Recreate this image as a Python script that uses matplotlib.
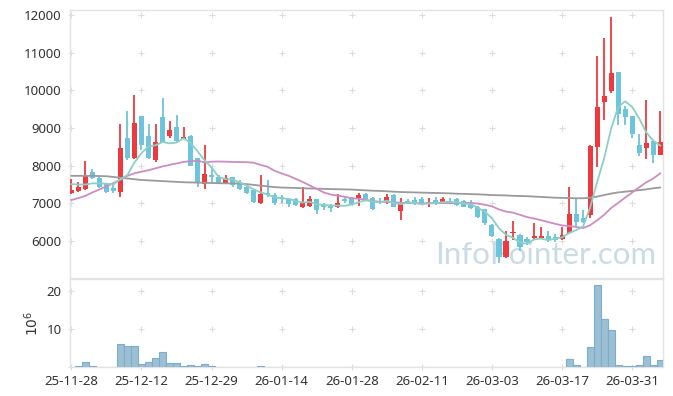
import numpy as np
import pandas as pd
import matplotlib
matplotlib.use("Agg")
import matplotlib.pyplot as plt

# ---- data -------------------------------------------------------------
holidays = ["2025-12-25", "2025-12-31", "2026-01-01", "2026-02-16",
            "2026-02-17", "2026-02-18", "2026-03-02"]
dates = pd.bdate_range("2025-11-28", "2026-04-06", freq="C", holidays=holidays)

opens = [7280, 7330, 7380, 7820, 7660, 7510, 7410, 7290, 8730, 8210,
         9320, 8800, 8160, 9280, 8800, 9020, 8710, 8790, 8200, 7510,
         7750, 7710, 7530, 7690, 7570, 7440, 7350, 7000, 7280, 7220,
         7180, 7110, 7110, 6910, 6930, 7110, 6960, 6930, 6890, 7110,
         7130, 7130, 7250, 7130, 7070, 7040, 7220, 6800, 7070, 7090,
         7120, 7000, 7090, 7030, 7070, 7120, 7070, 7000, 6910, 6840,
         6420, 6050, 5570, 6200, 6150, 6050, 6080, 6090, 6130, 6100,
         6060, 6200, 6720, 6620, 6690, 8500, 9700, 9990, 10490, 9510,
         9320, 8550, 8460, 8650, 8280]
highs = [7650, 7570, 8120, 7910, 7710, 7550, 7530, 9100, 9450, 9880,
         9320, 9110, 9100, 9790, 9190, 9350, 9030, 8810, 8200, 8550,
         7970, 7750, 7750, 7710, 7620, 7490, 7353, 7750, 7620, 7270,
         7220, 7130, 7130, 7430, 7190, 7115, 7010, 6980, 7250, 7180,
         7180, 7270, 7270, 7180, 7130, 7250, 7250, 7130, 7110, 7160,
         7160, 7130, 7160, 7180, 7130, 7130, 7090, 7090, 6930, 6850,
         6450, 6080, 6270, 6540, 6190, 6100, 6470, 6360, 6270, 6190,
         6380, 7430, 7130, 6820, 8540, 10920, 11380, 11950, 10490, 9580,
         9320, 8840, 9740, 8660, 9460]
lows = [7260, 7290, 7345, 7640, 7400, 7280, 7280, 7160, 8150, 8180,
        8420, 8180, 8110, 8620, 8730, 8640, 8700, 7980, 7440, 7380,
        7530, 7510, 7510, 7440, 7350, 7250, 7000, 6990, 7180, 6960,
        7000, 6910, 6930, 6870, 6915, 6720, 6820, 6780, 6880, 7020,
        6960, 6930, 7090, 6820, 6990, 6980, 6900, 6560, 6980, 6960,
        6960, 6910, 6960, 7010, 7000, 6930, 6890, 6850, 6600, 6420,
        6110, 5410, 5550, 6030, 5740, 5890, 6050, 6070, 5980, 5980,
        6030, 6190, 6400, 6480, 6610, 7970, 9210, 9940, 9080, 9080,
        8730, 8260, 8170, 8080, 8280]
closes = [7350, 7430, 7750, 7680, 7440, 7310, 7330, 8460, 8210, 9130,
          8550, 8200, 8620, 8640, 8950, 8660, 8770, 7990, 7530, 7780,
          7690, 7530, 7670, 7500, 7380, 7280, 7040, 7250, 7220, 7020,
          7130, 6980, 6960, 7020, 7110, 6820, 6890, 6870, 7020, 7070,
          6980, 7220, 7110, 6840, 7000, 7180, 6910, 6980, 7000, 7000,
          7000, 7040, 7000, 7120, 7020, 6960, 6910, 6870, 6650, 6470,
          6130, 5570, 6000, 6250, 5850, 5970, 6130, 6130, 6030, 6030,
          6160, 6720, 6510, 6510, 8520, 9570, 9850, 10470, 9370, 9280,
          8830, 8330, 8610, 8280, 8630]
volumes_m = [0.1, 0.3, 1.3, 0.3, 0.05, 0.05, 0.05, 6.1, 5.6, 5.6,
             0.8, 1.3, 2.4, 4.0, 1.1, 1.1, 0.3, 0.5, 0.3, 0.8,
             0.3, 0.05, 0.05, 0.05, 0.05, 0.05, 0.05, 0.2, 0.05, 0.05,
             0.05, 0.05, 0.05, 0.05, 0.05, 0.05, 0.05, 0.05, 0.05, 0.05,
             0.05, 0.05, 0.05, 0.05, 0.05, 0.05, 0.05, 0.05, 0.05, 0.05,
             0.05, 0.05, 0.05, 0.05, 0.05, 0.05, 0.05, 0.05, 0.05, 0.05,
             0.05, 0.05, 0.05, 0.05, 0.05, 0.05, 0.05, 0.05, 0.05, 0.05,
             0.05, 2.1, 0.5, 0.1, 5.3, 21.5, 12.7, 9.8, 0.5, 0.2,
             0.2, 0.4, 2.9, 0.5, 1.8]
# moving-average values before enough closes exist in the window
ma5_head = [7510, 7500, 7500, 7530]
ma20_head = [7090, 7140, 7200, 7290, 7370, 7450, 7540, 7630, 7730, 7800,
             7840, 7880, 7930, 7980, 8020, 8060, 8100, 8120, 8130]
ma60 = [7730, 7730, 7730, 7730, 7725, 7720, 7700, 7680, 7660, 7640,
        7620, 7610, 7600, 7590, 7580, 7570, 7560, 7555, 7550, 7545,
        7540, 7535, 7530, 7530, 7525, 7510, 7490, 7470, 7450, 7430,
        7420, 7415, 7410, 7400, 7395, 7390, 7385, 7380, 7375, 7370,
        7365, 7355, 7345, 7335, 7330, 7320, 7310, 7300, 7295, 7290,
        7285, 7280, 7275, 7270, 7265, 7255, 7250, 7245, 7240, 7230,
        7220, 7215, 7210, 7200, 7195, 7190, 7180, 7170, 7160, 7150,
        7145, 7140, 7135, 7135, 7150, 7180, 7220, 7260, 7290, 7310,
        7330, 7350, 7370, 7400, 7420]

# ---- derived --------------------------------------------------------------
n = len(closes)
dates = dates[:n]
x = np.arange(n)
o = np.array(opens, float); h = np.array(highs, float)
l = np.array(lows, float); c = np.array(closes, float)
cs = pd.Series(c)
ma5 = cs.rolling(5).mean().to_numpy()
ma5[:4] = ma5_head
ma20 = cs.rolling(20).mean().to_numpy()
ma20[:19] = ma20_head

RED = "#ee3a3f"
BLUE = "#6dc4dd"
up = c >= o
cols = np.where(up, RED, BLUE)

plt.rcParams["font.family"] = ["Noto Sans", "DejaVu Sans"]
fig = plt.figure(figsize=(6.73, 3.96), dpi=100)
W, H = 673, 396
ax = fig.add_axes([70 / W, 1 - 278 / H, 593 / W, 268 / H])
axv = fig.add_axes([70 / W, 1 - 367 / H, 593 / W, 88 / H], sharex=ax)

# candles
ax.vlines(x, l, h, colors=cols, linewidth=1.3, zorder=3)
ax.bar(x, np.abs(c - o), bottom=np.minimum(o, c), width=0.72,
       color=cols, linewidth=0, zorder=3)
ax.plot(x, ma60, color="#9a9a9a", lw=1.3, zorder=4)
ax.plot(x, ma20, color="#cc8cc4", lw=1.3, zorder=4)
ax.plot(x, ma5, color="#8ccfc4", lw=1.3, zorder=4)

ax.text(0.803, 0.085, "InfoPointer.com", transform=ax.transAxes,
        ha="center", va="center", fontsize=22.5, family=["Lato", "DejaVu Sans"],
        color="#cadbe6", zorder=1)

# volume
axv.bar(x, volumes_m, width=1.0, color="#9bbfd3", edgecolor="#7eaccb",
        linewidth=0.8, zorder=3)

ax.set_xlim(-0.2, n - 0.6)
ax.set_ylim(5018, 12133)
axv.set_ylim(0, 23.1)

xt = x[::10]
xlabels = [d.strftime("%y-%m-%d") for d in dates[::10]]
yt_main = np.arange(6000, 12001, 1000)
yt_vol = [0, 10, 20]

for a, yts in ((ax, yt_main), (axv, yt_vol)):
    gx, gy = np.meshgrid(xt, yts)
    a.scatter(gx.ravel(), gy.ravel(), marker="+", s=14, color="#dcdcdc",
              linewidths=0.8, zorder=0.5, clip_on=False)
    for s in a.spines.values():
        s.set_color("#e3e3e3")
        s.set_linewidth(1.0)
    a.tick_params(length=0, labelsize=9.5, labelcolor="#333333", pad=6)

ax.set_yticks(yt_main)
axv.set_yticks([10, 20])
axv.set_xticks(xt)
axv.set_xticklabels(xlabels)
ax.tick_params(labelbottom=False)
axv.set_ylabel(r"$10^6$", fontsize=10, color="#333333", labelpad=3)

fig.savefig("out.png", dpi=100)
